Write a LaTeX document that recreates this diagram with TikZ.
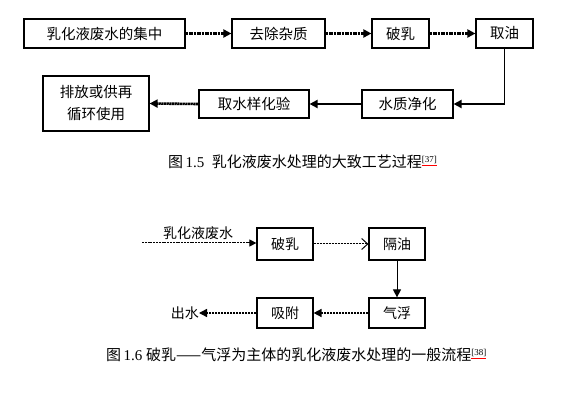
\documentclass[tikz,border=0pt]{standalone}
\usepackage{fontspec}
\setmainfont{Liberation Serif}
\newfontfamily\cjk{Noto Sans CJK SC}
\usetikzlibrary{arrows.meta}
\tikzset{
  box/.style={draw, line width=1.2pt, inner sep=0pt, align=center, font=\cjk\fontsize{14.5}{22}\selectfont},
  sbox/.style={draw, line width=1.2pt, inner sep=0pt, minimum width=56pt, font=\cjk\fontsize{14}{16}\selectfont},
  thickdot/.style={line width=2.6pt, dash pattern=on 1.2pt off 0.4pt, -{Triangle[length=8pt,width=8pt]}},
  thicksolid/.style={line width=2.6pt, -{Triangle[length=8pt,width=8pt]}},
  thinline/.style={line width=0.8pt},
  caption/.style={anchor=west, inner sep=0pt, font=\fontsize{15}{17}\selectfont},
  lbl/.style={inner sep=0pt, font=\cjk\fontsize{14}{16}\selectfont}
}
\newcommand{\refmark}[1]{\raisebox{5pt}{\fontsize{9}{10}\selectfont\color{red}\underline{\color{black}#1}}}
\begin{document}
\begin{tikzpicture}[x=1pt,y=-1pt]
\path[use as bounding box, fill=white] (0,0) rectangle (574,406);
% Figure 1.5
\node[box, minimum width=161pt, minimum height=29pt] (b1) at (104.5,33.5) {乳化液废水的集中};
\node[box, minimum width=93pt, minimum height=29pt] (b2) at (278.5,33.5) {去除杂质};
\node[box, minimum width=57pt, minimum height=29pt] (b3) at (400.5,33.5) {破乳};
\node[box, minimum width=57pt, minimum height=29pt] (b4) at (504.5,33.5) {取油};
\node[box, minimum width=91pt, minimum height=28pt] (b7) at (407.5,104) {水质净化};
\node[box, minimum width=110pt, minimum height=28pt] (b6) at (254,104) {取水样化验};
\node[box, minimum width=106pt, minimum height=55pt] (b5) at (96,103.5) {排放或供再\\循环使用};
\draw[thickdot] (b1.east) -- (b2.west);
\draw[thickdot] (b2.east) -- (b3.west);
\draw[thickdot] (b3.east) -- (b4.west);
\coordinate (k) at (b4.south |- b7.east);
\draw[thinline] (b4.south) -- (k);
\draw[thicksolid] (k) -- (b7.east);
\draw[thicksolid] (b7.west) -- (b6.east);
\draw[thickdot] (b6.west) -- (b5.east);
\node[caption] (cap1) at (168,162) {{\cjk 图}\,1.5\ \ {\cjk 乳化液废水处理的大致工艺过程}\refmark{[37]}};
% Figure 1.6
\node[sbox, minimum height=32pt] (c1) at (285,244) {破乳};
\node[sbox, minimum height=32pt] (c2) at (397,244) {隔油};
\node[sbox, minimum height=30pt] (c3) at (397,313) {气浮};
\node[sbox, minimum height=30pt] (c4) at (285,313) {吸附};
\coordinate (in) at (142,243);
\node[lbl] (inl) at (198,233) {乳化液废水};
\node[lbl, anchor=east] (out) at (199,313) {出水};
\draw[line width=1pt, dash pattern=on 2pt off 0.8pt, -{Triangle[length=7pt,width=7pt]}] (in) -- (c1.west |- in);
\draw[line width=1pt, dash pattern=on 1pt off 0.5pt, -{Straight Barb[length=6pt,width=11pt,line width=1pt]}] (c1.east) -- (c2.west);
\draw[line width=1pt, -{Triangle[length=8pt,width=8pt]}] (c2.south) -- (c3.north);
\draw[line width=1.6pt, dash pattern=on 1pt off 0.5pt, -{Triangle[length=8pt,width=8pt]}] (c3.west) -- (c4.east);
\draw[line width=1.4pt, dash pattern=on 1pt off 0.5pt, -{Triangle[length=8pt,width=8pt]}] (c4.west) -- (out.east);
\node[caption] (cap2) at (106,355) {{\cjk 图}\,1.6\ {\cjk 破乳——气浮为主体的乳化液废水处理的一般流程}\refmark{[38]}};
\end{tikzpicture}
\end{document}
